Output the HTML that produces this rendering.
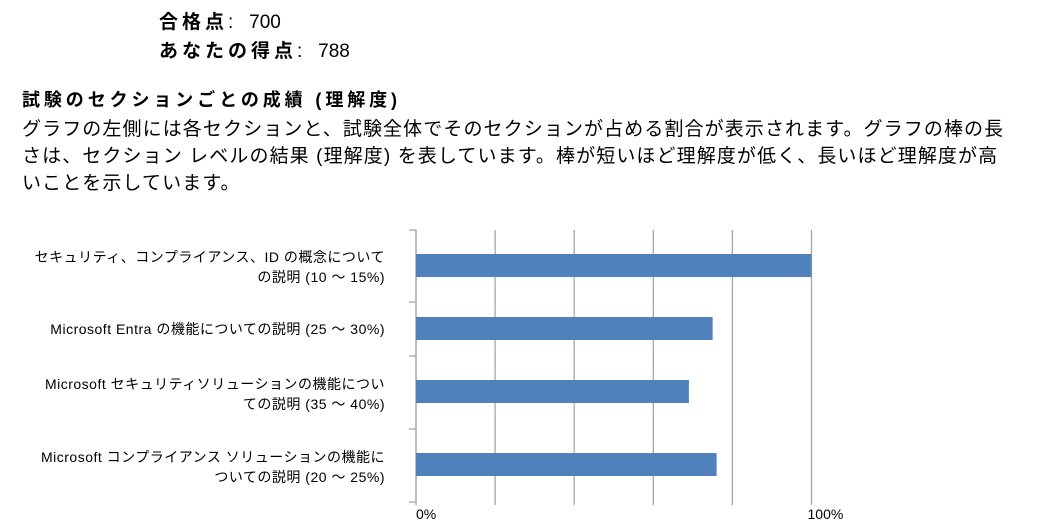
<!DOCTYPE html>
<html><head><meta charset="utf-8"><style>
body{margin:0;width:1046px;height:532px;background:#fff;overflow:hidden;font-family:"Liberation Sans","Noto Sans CJK JP",sans-serif;color:#000;position:relative}
.t{position:absolute;white-space:nowrap}
.b{font-weight:bold;letter-spacing:4px}
.lbl{position:absolute;right:661px;text-align:right;font-size:14px;letter-spacing:0.5px;line-height:20px;white-space:nowrap}
</style></head><body>
<div class="t" style="left:159px;top:7px;font-size:19px"><span class="b">合格点</span>:&nbsp;&nbsp;&nbsp;700</div>
<div class="t" style="left:159px;top:36px;font-size:19px"><span class="b">あなたの得点</span>:&nbsp;&nbsp;&nbsp;788</div>
<div class="t" style="left:22px;top:86px;font-size:18px;font-weight:bold;letter-spacing:3.9px">試験のセクションごとの成績 (理解度)</div>
<div class="t" style="left:22px;top:116px;font-size:19px;letter-spacing:1.1px;line-height:27px">グラフの左側には各セクションと、試験全体でそのセクションが占める割合が表示されます。グラフの棒の長<br>さは、セクション レベルの結果 (理解度) を表しています。棒が短いほど理解度が低く、長いほど理解度が高<br>いことを示しています。</div>
<div class="lbl" style="top:247px">セキュリティ、コンプライアンス、ID の概念について<br>の説明 (10 ～ 15%)</div>
<div class="lbl" style="top:319px">Microsoft Entra の機能についての説明 (25 ～ 30%)</div>
<div class="lbl" style="top:374px">Microsoft セキュリティソリューションの機能につい<br>ての説明 (35 ～ 40%)</div>
<div class="lbl" style="top:447px">Microsoft コンプライアンス ソリューションの機能に<br>ついての説明 (20 ～ 25%)</div>
<svg id="chart" width="1046" height="532" style="position:absolute;left:0;top:0"></svg>
<script>
const categories=["セキュリティ、コンプライアンス、ID の概念についての説明","Microsoft Entra の機能についての説明","Microsoft セキュリティソリューションの機能についての説明","Microsoft コンプライアンス ソリューションの機能についての説明"];
const values=[100,75,69,76];
const gridValues=[0,20,40,60,80,100];
const tickLabels=["0%","100%"];
const tickLabelValues=[0,100];
const barCenters=[265.5,328.5,391.5,464.5];
const bandEdges=[230,302,356,429,502];
const x0=416,x1=811.5,yTop=230,yBot=502;
const xs=v=>x0+(x1-x0)*v/100;
const svg=document.getElementById('chart');
const NS='http://www.w3.org/2000/svg';
function mk(t,a){const e=document.createElementNS(NS,t);for(const k in a)e.setAttribute(k,a[k]);svg.appendChild(e);return e;}
gridValues.forEach(v=>{const l=mk('line',{x1:xs(v),x2:xs(v),y1:yTop,y2:yBot+3,stroke:'#a6a6a6','stroke-width':1.3});

});
const ax=mk('line',{x1:x0,x2:x0,y1:yTop,y2:yBot,stroke:'#a6a6a6','stroke-width':1.3});


bandEdges.forEach(y=>{const t=mk('line',{x1:x0-7,x2:x0,y1:y,y2:y,stroke:'#a6a6a6','stroke-width':1.3});

});
values.forEach((v,i)=>{const r=mk('rect',{x:x0,y:barCenters[i]-11.5,width:xs(v)-x0,height:23,fill:'#4f81bd'});

});
tickLabelValues.forEach((v,i)=>{const t=mk('text',{x:xs(v)-(v===0?0:4),y:519,'font-size':14,'font-family':'"Liberation Sans",sans-serif',fill:'#000'});
t.textContent=tickLabels[i];

});
</script>
</body></html>
